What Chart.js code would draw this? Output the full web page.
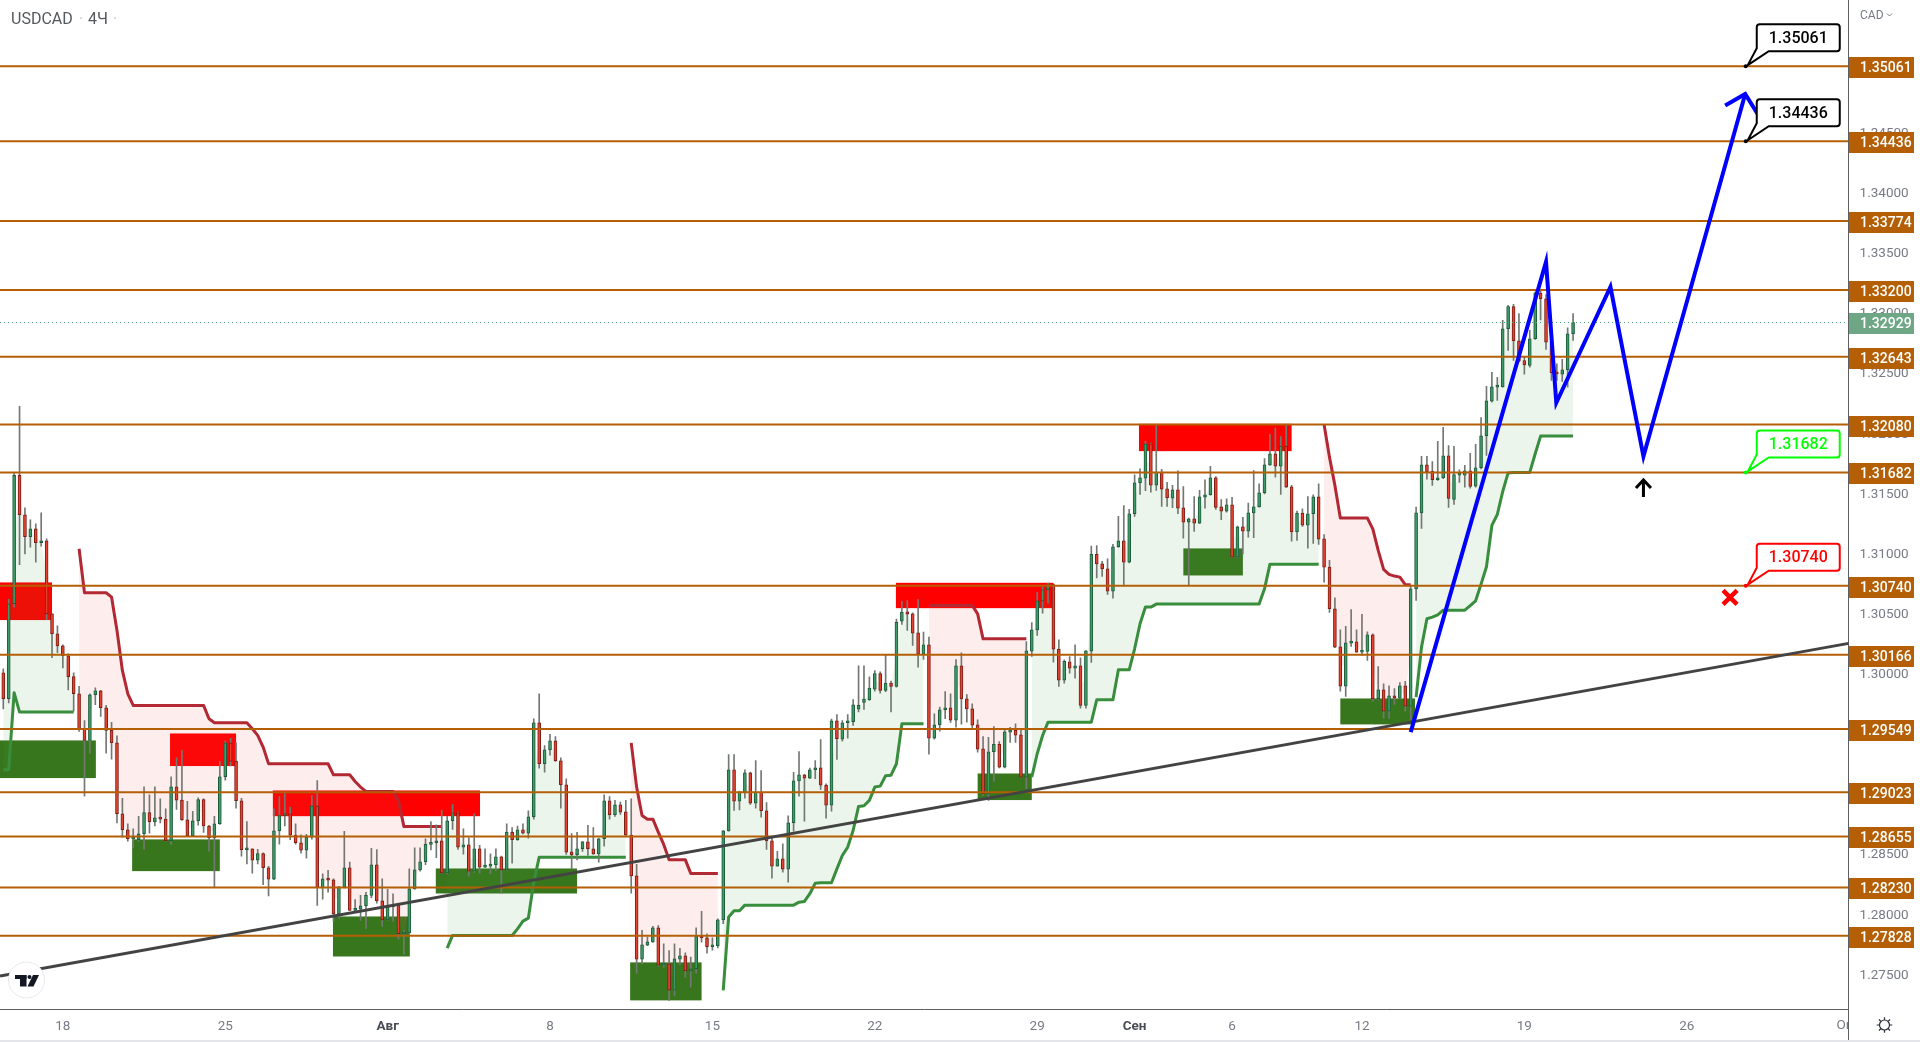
<!DOCTYPE html>
<html>
<head>
<meta charset="utf-8">
<title>USDCAD 4H</title>
<script src="https://cdn.jsdelivr.net/npm/chart.js@4/dist/chart.umd.js"></script>
<style>
html, body { margin: 0; padding: 0; background: #fff; overflow: hidden; }
canvas { display: block; }
</style>
</head>
<body>
<canvas id="myChart" width="1920" height="1042"></canvas>
<script>
// 4H candles, one entry per bar
const opens = [
1.30016,1.298,1.3059,1.31657,1.3133,1.31147,1.31213,1.31097,1.31114,1.30506,
1.3034,1.3024,1.30157,1.29983,1.29841,1.29545,1.29453,1.29833,1.29866,1.29725,
1.29536,1.29434,1.28843,1.2871,1.28633,1.28627,1.28677,1.28852,1.28777,1.2881,
1.28799,1.28619,1.29068,1.28957,1.28793,1.2866,1.28785,1.2896,1.28741,1.28644,
1.2876,1.29151,1.29434,1.29281,1.28951,1.28544,1.28552,1.28458,1.28511,1.28394,
1.283,1.28702,1.28827,1.28843,1.28666,1.28602,1.28541,1.28649,1.28909,1.28233,
1.28302,1.28294,1.28011,1.28236,1.28394,1.28039,1.2805,1.28078,1.28164,1.28419,
1.28119,1.27961,1.2807,1.28081,1.27845,1.27853,1.28219,1.28377,1.28444,1.28588,
1.28602,1.28618,1.28352,1.28785,1.28851,1.28566,1.28585,1.28366,1.28552,1.28399,
1.28407,1.28419,1.28485,1.28377,1.2869,1.28627,1.2871,1.28682,1.28818,1.296,
1.29259,1.29375,1.2945,1.29284,1.29084,1.28527,1.28502,1.28552,1.2861,1.28552,
1.2851,1.28635,1.28951,1.28835,1.28918,1.28859,1.28665,1.28327,1.27634,1.2775,
1.27778,1.27895,1.27584,1.27595,1.27376,1.27634,1.27662,1.27537,1.27554,1.27823,
1.27812,1.27737,1.27745,1.27961,1.28701,1.29209,1.28948,1.29023,1.29184,1.28932,
1.29023,1.28868,1.28618,1.28408,1.28469,1.28383,1.28768,1.29117,1.29167,1.29139,
1.29209,1.29225,1.29081,1.28915,1.29616,1.29464,1.296,1.29608,1.29712,1.2977,
1.29793,1.29879,1.30009,1.29869,1.2993,1.29903,1.30445,1.30523,1.30506,1.30348,
1.30171,1.30248,1.29472,1.29583,1.29708,1.29725,1.29622,1.30074,1.29799,1.29716,
1.29583,1.29384,1.29009,1.29359,1.2942,1.29231,1.29522,1.29539,1.295,1.29148,
1.30196,1.30373,1.30614,1.30706,1.3075,1.30212,1.29955,1.30107,1.30054,1.30074,
1.29744,1.30196,1.31,1.30922,1.3088,1.30695,1.31064,1.31114,1.30936,1.31338,
1.31596,1.31635,1.3192,1.31576,1.31685,1.31546,1.31468,1.31538,1.31388,1.31269,
1.31296,1.3126,1.31477,1.31496,1.31637,1.31396,1.3136,1.31413,1.30978,1.3123,
1.31194,1.31346,1.31396,1.31513,1.31745,1.31837,1.31734,1.31901,1.31563,1.31188,
1.31344,1.31244,1.31338,1.31479,1.3113,1.30894,1.30548,1.30232,1.29905,1.30262,
1.30273,1.30188,1.30193,1.30332,1.298,1.29874,1.29697,1.29824,1.29805,1.29907,
1.29738,1.30714,1.31346,1.31745,1.3169,1.31621,1.31638,1.3182,1.31457,1.3166,
1.3166,1.31696,1.31568,1.31721,1.31987,1.32275,1.32391,1.32394,1.32877,1.33062,
1.32777,1.32613,1.32572,1.32794,1.33173,1.33126,1.32766,1.32511,1.325,1.32536,
1.32835
];
const highs = [
1.30049,1.30626,1.31676,1.32231,1.31388,1.31288,1.31255,1.31346,1.3113,1.30506,
1.30407,1.30249,1.30174,1.30016,1.29902,1.29619,1.29841,1.29891,1.29869,1.29744,
1.29603,1.29492,1.28971,1.2876,1.28718,1.28821,1.29068,1.29001,1.29068,1.28968,
1.28885,1.29151,1.29309,1.2937,1.28946,1.28863,1.28976,1.28968,1.28746,1.28821,
1.2928,1.29448,1.2947,1.29434,1.28971,1.28779,1.28552,1.28547,1.28519,1.28405,
1.28885,1.28987,1.2901,1.28896,1.2876,1.28668,1.28671,1.28995,1.2912,1.28344,
1.28372,1.28302,1.28238,1.28696,1.28441,1.2813,1.28164,1.28189,1.28555,1.28546,
1.28302,1.28214,1.28178,1.28086,1.27873,1.28385,1.2856,1.2856,1.28635,1.28779,
1.28751,1.28871,1.28821,1.2892,1.28857,1.28718,1.28643,1.28843,1.2858,1.28552,
1.2851,1.28552,1.28491,1.2876,1.28729,1.2874,1.2876,1.28868,1.29633,1.29841,
1.29411,1.29503,1.29486,1.29309,1.29134,1.28679,1.28688,1.28613,1.28746,1.28729,
1.2864,1.29001,1.28987,1.28954,1.2894,1.28954,1.28968,1.28422,1.27873,1.27817,
1.27906,1.27914,1.27762,1.27706,1.27762,1.27723,1.27687,1.27651,1.27895,1.28031,
1.27845,1.27812,1.2797,1.28704,1.29336,1.29336,1.29031,1.29209,1.2919,1.29286,
1.29203,1.28937,1.28654,1.2853,1.28593,1.28826,1.29187,1.29361,1.2917,1.29223,
1.29286,1.29461,1.29092,1.2963,1.29669,1.29619,1.29669,1.29793,1.30074,1.30074,
1.29982,1.30033,1.30023,1.3017,1.29947,1.30462,1.30609,1.30617,1.30514,1.30625,
1.30354,1.30312,1.29675,1.2973,1.2986,1.29841,1.30126,1.30182,1.29835,1.29758,
1.29625,1.29486,1.29478,1.29569,1.29444,1.29536,1.29561,1.29591,1.29536,1.30276,
1.30434,1.30684,1.30728,1.30761,1.30756,1.3029,1.30124,1.30151,1.30248,1.3014,
1.30201,1.31069,1.31073,1.30942,1.30964,1.31083,1.31316,1.31407,1.31374,1.31662,
1.31712,1.3194,1.31926,1.32073,1.31707,1.31599,1.31574,1.31696,1.31565,1.31302,
1.31482,1.31532,1.31621,1.31732,1.31648,1.31457,1.31463,1.31474,1.31236,1.31308,
1.31427,1.31698,1.31588,1.31798,1.31998,1.32053,1.31981,1.32073,1.31574,1.3136,
1.3138,1.31482,1.31496,1.31588,1.31166,1.3095,1.30639,1.30373,1.30401,1.30542,
1.30373,1.30501,1.30357,1.3034,1.30068,1.29924,1.29907,1.29885,1.29935,1.29944,
1.30736,1.31393,1.31815,1.31815,1.31773,1.3194,1.32056,1.31906,1.31898,1.31704,
1.3174,1.3184,1.31915,1.32139,1.32397,1.32514,1.32472,1.32946,1.33071,1.33079,
1.33002,1.32641,1.32863,1.33182,1.3319,1.33162,1.32807,1.32586,1.32622,1.32885,
1.33004
];
const lows = [
1.29716,1.29764,1.30562,1.30914,1.31005,1.31061,1.30936,1.31069,1.30457,1.30141,
1.30182,1.30057,1.29874,1.29697,1.29528,1.2899,1.29348,1.2975,1.29653,1.29348,
1.29298,1.28766,1.28649,1.28616,1.2856,1.28616,1.28549,1.28682,1.28741,1.28766,
1.28616,1.28588,1.28879,1.28788,1.28655,1.28655,1.28749,1.28688,1.28533,1.28228,
1.28755,1.29123,1.29242,1.2889,1.28491,1.28425,1.2835,1.28425,1.28253,1.28159,
1.28294,1.28591,1.28741,1.28627,1.28591,1.28516,1.28474,1.28632,1.28081,1.28133,
1.28191,1.2795,1.27972,1.28227,1.28039,1.28031,1.27956,1.27889,1.28144,1.281,
1.27909,1.27956,1.2795,1.27801,1.27673,1.27845,1.28213,1.28366,1.28419,1.28543,
1.28477,1.2835,1.28344,1.28713,1.28546,1.28507,1.28324,1.28358,1.2835,1.28394,
1.28344,1.28369,1.28183,1.28372,1.28433,1.28621,1.28676,1.2864,1.28798,1.29223,
1.29189,1.29331,1.29278,1.2889,1.28505,1.28385,1.2846,1.2853,1.28496,1.28505,
1.28441,1.28574,1.28798,1.28821,1.28837,1.28663,1.28183,1.27518,1.27595,1.27745,
1.27773,1.27576,1.27568,1.27291,1.27332,1.2759,1.27485,1.27401,1.27518,1.27776,
1.27684,1.27709,1.27728,1.27928,1.28699,1.28871,1.28876,1.28973,1.2892,1.2889,
1.28815,1.28546,1.28308,1.28408,1.28358,1.28275,1.28699,1.2899,1.28782,1.29134,
1.29134,1.29045,1.28807,1.28865,1.29295,1.29447,1.29472,1.29577,1.2969,1.2971,
1.29786,1.29862,1.29845,1.29858,1.2969,1.29896,1.30418,1.30368,1.30243,1.30063,
1.30126,1.29339,1.29464,1.2953,1.29633,1.29603,1.29564,1.29589,1.29605,1.29553,
1.29356,1.28995,1.28954,1.29115,1.29225,1.29225,1.29436,1.29436,1.29148,1.29051,
1.30151,1.30326,1.30512,1.30595,1.30104,1.29902,1.2993,1.30013,1.29971,1.29722,
1.29722,1.30102,1.30805,1.30817,1.30667,1.30637,1.31058,1.30737,1.3093,1.31316,
1.31499,1.3153,1.31518,1.31532,1.31399,1.31399,1.31388,1.31338,1.31136,1.30742,
1.31191,1.31255,1.31385,1.31493,1.31374,1.31288,1.31352,1.30972,1.30972,1.31005,
1.31144,1.31139,1.31393,1.31504,1.3174,1.31643,1.31499,1.31557,1.31111,1.31116,
1.31233,1.31052,1.31091,1.31083,1.3077,1.30518,1.30224,1.29863,1.29819,1.30235,
1.30185,1.3016,1.30118,1.2978,1.29794,1.29639,1.29639,1.29752,1.298,1.29697,
1.29628,1.30617,1.31216,1.31626,1.31574,1.31615,1.31629,1.3139,1.31416,1.31599,
1.3156,1.31552,1.3156,1.31712,1.31823,1.32267,1.32281,1.32392,1.32697,1.32613,
1.326,1.325,1.32558,1.32788,1.3295,1.32705,1.32447,1.32447,1.32439,1.32392,
1.32779
];
const closes = [
1.298,1.3059,1.31657,1.3133,1.31147,1.31213,1.31097,1.31114,1.30506,1.3034,
1.3024,1.30157,1.29983,1.29841,1.29545,1.29453,1.29833,1.29866,1.29725,1.29536,
1.29434,1.28843,1.2871,1.28635,1.28635,1.28677,1.28852,1.28777,1.2881,1.28799,
1.28619,1.29068,1.28957,1.28793,1.2866,1.28785,1.2896,1.28741,1.28644,1.2876,
1.29151,1.29434,1.29281,1.28951,1.28544,1.28552,1.28458,1.28511,1.28394,1.283,
1.28702,1.28827,1.28843,1.28666,1.28602,1.28541,1.28649,1.28909,1.28233,1.28302,
1.28291,1.28011,1.28236,1.28394,1.28039,1.2805,1.28078,1.28164,1.28419,1.28119,
1.27961,1.2807,1.28081,1.27845,1.27853,1.28219,1.28377,1.28444,1.28588,1.28602,
1.28618,1.28352,1.28785,1.28851,1.28566,1.28585,1.28366,1.28552,1.28399,1.2841,
1.28419,1.28485,1.28377,1.2869,1.28627,1.2871,1.28682,1.28818,1.296,1.29259,
1.29375,1.2945,1.29284,1.29084,1.28524,1.28502,1.28552,1.2861,1.28552,1.2851,
1.28635,1.28951,1.28835,1.28918,1.28857,1.28665,1.28327,1.27634,1.27753,1.27778,
1.27895,1.27584,1.27595,1.27376,1.27637,1.27662,1.27537,1.27554,1.27823,1.27812,
1.27737,1.27745,1.27961,1.28701,1.29209,1.28948,1.29023,1.29184,1.28932,1.29023,
1.28868,1.28618,1.28408,1.28469,1.28383,1.28768,1.29117,1.29167,1.29139,1.29209,
1.29225,1.29081,1.28915,1.29616,1.29467,1.296,1.29608,1.29749,1.29744,1.29796,
1.29889,1.30009,1.29869,1.2993,1.29903,1.30435,1.3052,1.30503,1.30345,1.30171,
1.30248,1.29472,1.29583,1.29708,1.29725,1.29622,1.30074,1.29799,1.29716,1.2958,
1.29381,1.29009,1.29359,1.2942,1.29231,1.29525,1.29539,1.29497,1.29148,1.30199,
1.30373,1.30614,1.30706,1.30747,1.30212,1.29955,1.3011,1.30054,1.30074,1.29744,
1.30199,1.31,1.30922,1.3088,1.30695,1.31064,1.31114,1.30936,1.31338,1.31596,
1.31637,1.3192,1.31576,1.31685,1.31543,1.31471,1.31538,1.31385,1.31269,1.31296,
1.3126,1.31479,1.31496,1.31637,1.31391,1.3136,1.31413,1.30978,1.3123,1.31194,
1.31346,1.31396,1.31513,1.31745,1.31837,1.31734,1.31901,1.3156,1.31188,1.31344,
1.31244,1.31338,1.31479,1.31127,1.30894,1.30548,1.30229,1.29905,1.30265,1.30276,
1.30188,1.30201,1.30332,1.298,1.29874,1.29697,1.29824,1.29805,1.29907,1.29738,
1.30714,1.31346,1.31745,1.31684,1.31621,1.31638,1.3182,1.31465,1.31663,1.31665,
1.31696,1.31566,1.31721,1.31987,1.32278,1.32394,1.32397,1.32877,1.33062,1.32777,
1.32608,1.32575,1.32794,1.33173,1.33126,1.32766,1.32511,1.32502,1.32536,1.32835,
1.32929
];

// trend stop lines per bar, null where the other side is active
const stopUp = [
1.29209,1.29209,1.2985,1.29689,1.29689,1.29689,1.29689,1.29689,1.29689,1.29689,
1.29689,1.29689,1.29689,1.29689,null,null,null,null,null,null,
null,null,null,null,null,null,null,null,null,null,
null,null,null,null,null,null,null,null,null,null,
null,null,null,null,null,null,null,null,null,null,
null,null,null,null,null,null,null,null,null,null,
null,null,null,null,null,null,null,null,null,null,
null,null,null,null,null,null,null,null,null,null,
null,null,1.27726,1.27831,1.27831,1.27831,1.27831,1.27831,1.27831,1.27831,
1.27831,1.27831,1.27831,1.27831,1.27831,1.27886,1.2795,1.27975,1.28275,1.28482,
1.28482,1.28482,1.28482,1.28482,1.28482,1.28482,1.28482,1.28482,1.28482,1.28482,
1.28482,1.28482,1.28482,1.28482,1.28482,1.28482,null,null,null,null,
null,null,null,null,null,null,null,null,null,null,
null,null,null,1.27374,1.27984,1.28036,1.28036,1.28083,1.28083,1.28083,
1.28083,1.28083,1.28083,1.28083,1.28083,1.28083,1.28083,1.28108,1.28114,1.28178,
1.28266,1.28269,1.28269,1.28269,1.28385,1.28496,1.28566,1.28704,1.28904,1.2891,
1.28954,1.29065,1.29073,1.29159,1.29164,1.29259,1.29591,1.29591,1.29591,1.29591,
1.29591,null,null,null,null,null,null,null,null,null,
null,null,null,null,null,null,null,null,null,null,
1.29148,1.29342,1.29494,1.29605,1.29605,1.29605,1.29605,1.29605,1.29605,1.29605,
1.29605,1.29605,1.29791,1.29791,1.29791,1.29791,1.3004,1.3004,1.3004,1.30215,
1.30423,1.30562,1.30562,1.30587,1.30587,1.30587,1.30587,1.30587,1.30587,1.30587,
1.30587,1.30587,1.30587,1.30587,1.30587,1.30587,1.30587,1.30587,1.30587,1.30587,
1.30587,1.30587,1.30587,1.30714,1.30919,1.30919,1.30919,1.30919,1.30919,1.30919,
1.30919,1.30919,1.30919,1.30919,null,null,null,null,null,null,
null,null,null,null,null,null,null,null,null,null,
null,1.29813,1.30229,1.30465,1.30478,1.30498,1.30536,1.30536,1.30536,1.30536,
1.30536,1.30574,1.30614,1.30753,1.30898,1.31241,1.31332,1.31523,1.31678,1.31682,
1.31682,1.31682,1.31682,1.31837,1.31984,1.31984,1.31984,1.31984,1.31984,1.31984,
1.31984
];
const stopDown = [
null,null,null,null,null,null,null,null,null,null,
null,null,null,null,1.31047,1.30681,1.30681,1.30681,1.30681,1.30681,
1.30645,1.30368,1.30035,1.29841,1.29744,1.29744,1.29744,1.29744,1.29744,1.29744,
1.29744,1.29744,1.29744,1.29744,1.29744,1.29744,1.29744,1.29744,1.29633,1.296,
1.296,1.296,1.296,1.296,1.296,1.296,1.2955,1.29495,1.29398,1.2926,
1.29259,1.29259,1.29259,1.29259,1.29259,1.29259,1.29259,1.29259,1.29259,1.29259,
1.29259,1.29167,1.29167,1.29167,1.29167,1.29112,1.29065,1.29029,1.29029,1.29029,
1.29029,1.29029,1.29029,1.28954,1.28738,1.28738,1.28738,1.28738,1.28738,1.28738,
1.28738,1.28738,null,null,null,null,null,null,null,null,
null,null,null,null,null,null,null,null,null,null,
null,null,null,null,null,null,null,null,null,null,
null,null,null,null,null,null,1.29433,1.29065,1.28829,1.28798,
1.28798,1.2869,1.28588,1.2846,1.2846,1.2846,1.2846,1.28347,1.28347,1.28347,
1.28347,1.28347,1.28347,null,null,null,null,null,null,null,
null,null,null,null,null,null,null,null,null,null,
null,null,null,null,null,null,null,null,null,null,
null,null,null,null,null,null,null,null,null,null,
null,1.30576,1.30576,1.30576,1.30576,1.30576,1.30576,1.30576,1.30576,1.30576,
1.30506,1.30298,1.30298,1.30298,1.30298,1.30298,1.30298,1.30298,1.30298,1.30298,
null,null,null,null,null,null,null,null,null,null,
null,null,null,null,null,null,null,null,null,null,
null,null,null,null,null,null,null,null,null,null,
null,null,null,null,null,null,null,null,null,null,
null,null,null,null,null,null,null,null,null,null,
null,null,null,null,1.32081,1.31809,1.31574,1.31302,1.31302,1.31302,
1.31302,1.31302,1.31302,1.31213,1.31033,1.30875,1.30834,1.3082,1.30811,1.30748,
1.30748,null,null,null,null,null,null,null,null,null,
null,null,null,null,null,null,null,null,null,null,
null,null,null,null,null,null,null,null,null,null,
null
];

// price levels drawn across the chart
const levels = [1.35061,1.34436,1.33774,1.332,1.32643,1.3208,1.31682,1.3074,1.30166,1.29549,1.29023,1.28655,1.2823,1.27828];
const lastPrice = 1.32929;

// zones: bar from, bar to, top price, bottom price
const redZones = [
  [-0.61, 9, 1.30767, 1.30454],
  [30.8, 43, 1.29511, 1.2924],
  [49.8, 88.07, 1.29037, 1.28823],
  [164.9, 194, 1.30764, 1.30553],
  [209.8, 238, 1.32086, 1.31859]
];
const greenZones = [
  [-0.61, 17.1, 1.29453, 1.2914],
  [23.8, 40, 1.2863, 1.28366],
  [60.9, 75.1, 1.27989, 1.27656],
  [79.9, 106, 1.28388, 1.2818],
  [115.8, 129, 1.27607, 1.27291],
  [180, 190, 1.29178, 1.28957],
  [218, 229, 1.3105, 1.30825],
  [247, 260.8, 1.29802, 1.29586]
];

// drawn lines, in bars and prices
const trendBars = [-0.61, 340.9];
const trendPrices = [1.27494, 1.3026];
const forecastBars = [260, 285, 286.9, 296.9, 303, 321.8];
const forecastPrices = [1.29522, 1.33433, 1.32261, 1.33225, 1.31816, 1.34829];
const headBars = [318.1, 321.8, 324.1];
const headPrices = [1.34734, 1.34829, 1.34663];

const calloutBar = 321.9;
const calloutPrices = [1.35061, 1.34436, 1.31682, 1.3074];
const calloutColors = ['#000000', '#000000', '#00ff00', '#ff0000'];
const upArrow = [303, 1.31553];
const redCross = [319, 1.30643];

// axes
const xTickBars = [11, 41, 71, 101, 131, 161, 191, 209, 227, 251, 281, 311];
const xTickLabels = ['18', '25', 'Авг', '8', '15', '22', '29', 'Сен', '6', '12', '19', '26'];
const yTicks = [1.275, 1.28, 1.285, 1.29, 1.295, 1.3, 1.305, 1.31, 1.315, 1.32, 1.325, 1.33, 1.335, 1.34, 1.345, 1.35];

const FONT = 'Roboto, "Liberation Sans", sans-serif';
const barIndex = opens.map(function (v, i) { return i; });

function toPoints(xs, ys) {
  return xs.map(function (x, i) { return { x: x, y: ys[i] }; });
}

function hline(price, color, width, dash) {
  return {
    type: 'line',
    data: toPoints([-0.61, 340.9], [price, price]),
    borderColor: color,
    borderWidth: width,
    borderDash: dash || [],
    pointRadius: 0,
    order: 4
  };
}

const isUp = opens.map(function (o, i) { return closes[i] >= o; });

const datasets = [
  // body middle, only used as the edge of the trend fill
  {
    type: 'line',
    data: toPoints(barIndex, opens.map(function (o, i) { return (o + closes[i]) / 2; })),
    borderWidth: 0,
    borderColor: 'rgba(0,0,0,0)',
    pointRadius: 0,
    fill: false,
    order: 20
  },
  {
    type: 'line',
    data: toPoints(barIndex, stopUp),
    borderColor: '#388e3c',
    borderWidth: 3,
    pointRadius: 0,
    borderJoinStyle: 'round',
    fill: { target: 0, above: 'rgba(67,160,71,0.1)', below: 'rgba(67,160,71,0.1)' },
    order: 10
  },
  {
    type: 'line',
    data: toPoints(barIndex, stopDown),
    borderColor: '#b22833',
    borderWidth: 3,
    pointRadius: 0,
    borderJoinStyle: 'round',
    fill: { target: 0, above: 'rgba(239,83,80,0.1)', below: 'rgba(239,83,80,0.1)' },
    order: 10
  },
  // wicks
  {
    type: 'bar',
    data: barIndex.map(function (i) { return { x: i, y: [lows[i], highs[i]] }; }),
    backgroundColor: '#737873',
    borderWidth: 0,
    grouped: false,
    barPercentage: 1,
    categoryPercentage: 1,
    maxBarThickness: 1,
    order: 6
  },
  // bodies
  {
    type: 'bar',
    data: barIndex.map(function (i) { return { x: i, y: [opens[i], closes[i]] }; }),
    backgroundColor: isUp.map(function (u) { return u ? '#3f9a68' : '#e3442f'; }),
    borderColor: isUp.map(function (u) { return u ? '#1c5c3a' : '#7c1c15'; }),
    borderWidth: 1,
    borderSkipped: false,
    grouped: false,
    barPercentage: 1,
    categoryPercentage: 1,
    maxBarThickness: 3,
    minBarLength: 2,
    order: 5
  }
];

levels.forEach(function (l) { datasets.push(hline(l, '#b45f06', 2)); });
datasets.push(hline(lastPrice, '#4e9f7c', 1, [1, 3]));
datasets.push({
  type: 'line',
  data: toPoints(trendBars, trendPrices),
  borderColor: '#434343',
  borderWidth: 3,
  pointRadius: 0,
  order: 3
});
datasets.push({
  type: 'line',
  data: toPoints(forecastBars, forecastPrices),
  borderColor: '#0000ff',
  borderWidth: 4,
  pointRadius: 0,
  borderJoinStyle: 'miter',
  order: 2
});
datasets.push({
  type: 'line',
  data: toPoints(headBars, headPrices),
  borderColor: '#0000ff',
  borderWidth: 4,
  pointRadius: 0,
  borderJoinStyle: 'miter',
  order: 2
});

function drawZones(chart, zones, color) {
  const x = chart.scales.x, y = chart.scales.y, ctx = chart.ctx;
  ctx.fillStyle = color;
  zones.forEach(function (z) {
    const left = x.getPixelForValue(z[0]), right = x.getPixelForValue(z[1]);
    const top = y.getPixelForValue(z[2]), bottom = y.getPixelForValue(z[3]);
    ctx.fillRect(left, top, right - left, bottom - top);
  });
}

const zonesPlugin = {
  id: 'zones',
  beforeDatasetsDraw: function (chart) {
    drawZones(chart, greenZones, '#38761d');
    drawZones(chart, redZones, '#ff0000');
  }
};

function priceTag(ctx, py, text, color) {
  ctx.fillStyle = color;
  ctx.fillRect(1849, Math.round(py - 9), 65, 21);
  ctx.fillStyle = '#ffffff';
  ctx.font = '500 14px ' + FONT;
  ctx.textAlign = 'left';
  ctx.textBaseline = 'middle';
  ctx.fillText(text, 1860, Math.round(py) + 2);
}

function callout(ctx, ax, ay, text, color) {
  const left = ax + 11, right = ax + 94, bottom = ay - 15, top = ay - 42, r = 3;
  ctx.beginPath();
  ctx.moveTo(left + r, top);
  ctx.lineTo(right - r, top);
  ctx.quadraticCurveTo(right, top, right, top + r);
  ctx.lineTo(right, bottom - r);
  ctx.quadraticCurveTo(right, bottom, right - r, bottom);
  ctx.lineTo(left + 12, bottom);
  ctx.lineTo(ax + 2, ay - 1);
  ctx.lineTo(left, bottom - 3);
  ctx.lineTo(left, top + r);
  ctx.quadraticCurveTo(left, top, left + r, top);
  ctx.closePath();
  ctx.fillStyle = '#ffffff';
  ctx.fill();
  ctx.strokeStyle = color;
  ctx.lineWidth = 2;
  ctx.stroke();
  ctx.fillStyle = color;
  ctx.font = '500 16px ' + FONT;
  ctx.textAlign = 'center';
  ctx.textBaseline = 'middle';
  ctx.fillText(text, (left + right) / 2, (top + bottom) / 2 + 1);
  ctx.beginPath();
  ctx.arc(ax, ay, 2, 0, Math.PI * 2);
  ctx.fill();
}

const overlayPlugin = {
  id: 'overlay',
  afterDraw: function (chart) {
    const ctx = chart.ctx, x = chart.scales.x, y = chart.scales.y;
    ctx.save();

    // callouts
    calloutPrices.forEach(function (p, i) {
      callout(ctx, x.getPixelForValue(calloutBar), y.getPixelForValue(p), p.toFixed(5), calloutColors[i]);
    });

    // up arrow
    const ax = x.getPixelForValue(upArrow[0]), ay = y.getPixelForValue(upArrow[1]);
    ctx.strokeStyle = '#000000';
    ctx.lineWidth = 3;
    ctx.lineCap = 'butt';
    ctx.beginPath();
    ctx.moveTo(ax, ay + 9);
    ctx.lineTo(ax, ay - 8);
    ctx.moveTo(ax - 7.5, ay);
    ctx.lineTo(ax, ay - 8);
    ctx.lineTo(ax + 7.5, ay);
    ctx.stroke();

    // red cross
    const cx = x.getPixelForValue(redCross[0]), cy = y.getPixelForValue(redCross[1]);
    ctx.strokeStyle = '#ff0000';
    ctx.lineWidth = 4.4;
    ctx.beginPath();
    ctx.moveTo(cx - 7, cy - 7);
    ctx.lineTo(cx + 7, cy + 7);
    ctx.moveTo(cx + 7, cy - 7);
    ctx.lineTo(cx - 7, cy + 7);
    ctx.stroke();

    // price tags on the axis
    levels.forEach(function (l) {
      priceTag(ctx, y.getPixelForValue(l), l.toFixed(5), '#b45f06');
    });
    priceTag(ctx, y.getPixelForValue(lastPrice), lastPrice.toFixed(5), '#6fa686');

    // title
    ctx.textAlign = 'left';
    ctx.textBaseline = 'alphabetic';
    ctx.font = '16px ' + FONT;
    ctx.fillStyle = '#55585c';
    ctx.fillText('USDCAD', 11, 24);
    ctx.fillText('4Ч', 88, 24);
    ctx.fillStyle = '#c5c8d0';
    ctx.fillText('·', 79, 24);
    ctx.fillText('·', 113, 24);

    // currency
    ctx.font = '12px ' + FONT;
    ctx.fillStyle = '#787b86';
    ctx.fillText('CAD', 1860, 19);
    ctx.strokeStyle = '#787b86';
    ctx.lineWidth = 1;
    ctx.beginPath();
    ctx.moveTo(1887, 13.5);
    ctx.lineTo(1889.5, 16);
    ctx.lineTo(1892, 13.5);
    ctx.stroke();

    // cut label at the axis end
    ctx.save();
    ctx.beginPath();
    ctx.rect(1800, 1011, 48, 30);
    ctx.clip();
    ctx.font = '13.5px ' + FONT;
    ctx.fillStyle = '#787b86';
    ctx.textAlign = 'center';
    ctx.textBaseline = 'middle';
    ctx.fillText('Окт', 1848, 1026);
    ctx.restore();

    // frame bits
    ctx.fillStyle = '#5d5f63';
    ctx.fillRect(1848, 1009, 1, 32);
    ctx.fillStyle = '#e3e5ea';
    ctx.fillRect(0, 1040, 1920, 2);

    // gear
    const gx = 1884.5, gy = 1025;
    ctx.strokeStyle = '#2a2e39';
    ctx.lineWidth = 1.2;
    ctx.beginPath();
    ctx.arc(gx, gy, 5, 0, Math.PI * 2);
    for (let a = 0; a < 8; a++) {
      const t = a * Math.PI / 4;
      ctx.moveTo(gx + Math.cos(t) * 5, gy + Math.sin(t) * 5);
      ctx.lineTo(gx + Math.cos(t) * 7.8, gy + Math.sin(t) * 7.8);
    }
    ctx.stroke();

    // logo
    ctx.beginPath();
    ctx.arc(26.5, 980, 18, 0, Math.PI * 2);
    ctx.fillStyle = '#ffffff';
    ctx.fill();
    ctx.strokeStyle = '#e6e8ec';
    ctx.lineWidth = 1;
    ctx.stroke();
    ctx.fillStyle = '#131722';
    ctx.fillRect(15, 975, 11.5, 4);
    ctx.fillRect(20, 975, 6.5, 11.5);
    ctx.beginPath();
    ctx.arc(29.5, 977, 2, 0, Math.PI * 2);
    ctx.fill();
    ctx.beginPath();
    ctx.moveTo(33, 975);
    ctx.lineTo(39, 975);
    ctx.lineTo(33.5, 986.5);
    ctx.lineTo(27.5, 986.5);
    ctx.closePath();
    ctx.fill();

    ctx.restore();
  }
};

var ctx = document.getElementById('myChart').getContext('2d');
var chart = new Chart(ctx, {
  type: 'bar',
  data: { datasets: datasets },
  plugins: [zonesPlugin, overlayPlugin],
  options: {
    responsive: false,
    animation: false,
    devicePixelRatio: 1,
    layout: { padding: 0, autoPadding: false },
    plugins: {
      legend: { display: false },
      tooltip: { enabled: false }
    },
    events: [],
    scales: {
      x: {
        type: 'linear',
        offset: false,
        min: -0.61,
        max: 340.9,
        grid: { display: false, drawTicks: false },
        border: { display: true, color: '#5d5f63', width: 1 },
        afterBuildTicks: function (scale) {
          scale.ticks = xTickBars.map(function (v) { return { value: v }; });
        },
        afterFit: function (scale) {
          scale.height = 32.6;
          scale.paddingLeft = 0;
          scale.paddingRight = 0;
        },
        ticks: {
          autoSkip: false,
          maxRotation: 0,
          padding: 9,
          color: function (c) { return c.index === 2 || c.index === 7 ? '#4a4d55' : '#787b86'; },
          font: function (c) {
            return { family: FONT, size: 13.5, weight: c.index === 2 || c.index === 7 ? '700' : '400' };
          },
          callback: function (value, index) { return xTickLabels[index]; }
        }
      },
      y: {
        type: 'linear',
        position: 'right',
        min: 1.27216,
        max: 1.35611,
        grid: { display: false, drawTicks: false },
        border: { display: true, color: '#5d5f63', width: 1 },
        afterBuildTicks: function (scale) {
          scale.ticks = yTicks.map(function (v) { return { value: v }; });
        },
        afterFit: function (scale) {
          scale.width = 71.4;
          scale.paddingTop = 0;
          scale.paddingBottom = 0;
        },
        ticks: {
          autoSkip: false,
          padding: 11,
          color: '#787b86',
          font: { family: FONT, size: 13.5 },
          callback: function (value) { return value.toFixed(5); }
        }
      }
    }
  }
});
</script>
</body>
</html>
